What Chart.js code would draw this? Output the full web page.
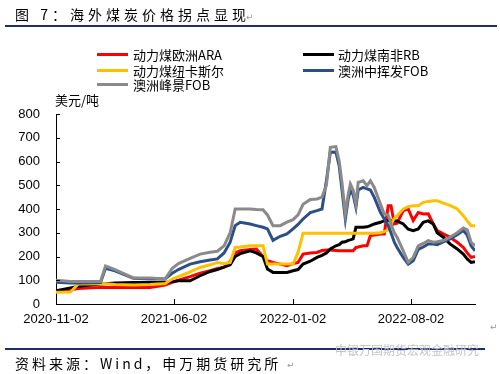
<!DOCTYPE html>
<html>
<head>
<meta charset="utf-8">
<script src="https://cdn.jsdelivr.net/npm/chart.js@4.4.0/dist/chart.umd.min.js"></script>
<style>
  body { margin: 0; width: 500px; height: 374px; position: relative; background: #fff; overflow: hidden; }
  .txt { position: absolute; white-space: nowrap; font-family: "Noto Sans CJK SC", sans-serif; color: #000; }
  .rule { position: absolute; left: 5px; height: 2px; background: #1f2d6e; }
  .sw { position: absolute; width: 31px; height: 3px; }
  .mark { position: absolute; font-size: 9px; color: #999; font-family: "DejaVu Sans", sans-serif; }
</style>
</head>
<body>
<canvas id="chart" width="500" height="374" style="position:absolute;left:0;top:0"></canvas>

<div class="txt" style="left:15px;top:4px;font-size:14px;letter-spacing:4px">图 7：海外煤炭价格拐点显现</div>
<div class="mark" style="left:246px;top:12px">↵</div>
<div class="rule" style="top:25px;width:492px"></div>

<!-- legend -->
<div class="sw" style="left:97px;top:53px;background:#ff0000"></div>
<div class="txt" style="left:133px;top:45px;font-size:13px">动力煤欧洲ARA</div>
<div class="sw" style="left:303px;top:53px;background:#000000"></div>
<div class="txt" style="left:338px;top:45px;font-size:13px">动力煤南非RB</div>
<div class="sw" style="left:97px;top:69px;background:#ffc000"></div>
<div class="txt" style="left:133px;top:61px;font-size:13px">动力煤纽卡斯尔</div>
<div class="sw" style="left:303px;top:69px;background:#2c4f87"></div>
<div class="txt" style="left:338px;top:61px;font-size:13px">澳洲中挥发FOB</div>
<div class="sw" style="left:97px;top:83px;background:#8a8a8a"></div>
<div class="txt" style="left:133px;top:75px;font-size:13px">澳洲峰景FOB</div>

<div class="txt" style="left:55px;top:90px;font-size:13px">美元/吨</div>

<div class="rule" style="top:348px;width:480px"></div>
<div class="txt" style="left:335px;top:341px;font-size:12px;color:#c4c4c4">中银万国期货宏观金融研究</div>
<div class="txt" style="left:15px;top:353px;font-size:14px;letter-spacing:3px">资料来源：Wind，申万期货研究所</div>
<div class="mark" style="left:287px;top:360px">↵</div>
<div class="mark" style="left:490px;top:322px">↵</div>

<script>
// sample dates
const dates = ['2020-11-02','2020-11-28','2020-12-12','2021-01-21','2021-01-30','2021-02-16','2021-03-21','2021-04-20','2021-05-17','2021-05-30',
  '2021-06-10','2021-07-01','2021-07-19','2021-08-06','2021-08-19','2021-08-31','2021-09-11','2021-09-20','2021-09-29','2021-10-17',
  '2021-10-28','2021-11-09','2021-11-17','2021-11-27','2021-12-10','2021-12-22','2022-01-02','2022-01-11','2022-01-20','2022-02-02',
  '2022-02-14','2022-02-23','2022-03-03','2022-03-10','2022-03-20','2022-03-26','2022-03-31','2022-04-06','2022-04-11','2022-04-15',
  '2022-04-20','2022-04-25','2022-04-29','2022-05-08','2022-05-15','2022-05-21','2022-05-28','2022-06-08','2022-06-15','2022-06-22',
  '2022-06-27','2022-07-03','2022-07-08','2022-07-19','2022-07-28','2022-08-06','2022-08-15','2022-08-24','2022-09-02','2022-09-11',
  '2022-09-18','2022-09-29','2022-10-11','2022-10-24','2022-11-04','2022-11-11','2022-11-18','2022-11-25'];

// 美元/吨
const euroARA = [56,60,65,70,70,70,70,70,80,91, 100,115,130,140,150,155,180,215,224,230,
  231,200,182,175,168,161,170,175,210,215, 217,225,227,227,225,224,224,224,224,224,
  224,238,240,245,245,288,290,295,295,414, 414,337,340,393,400,351,385,379,380,337,
  309,295,281,260,238,215,196,200];
const southAfricaRB = [56,68,75,84,85,88,91,91,91,95, 98,98,119,137,145,155,165,200,212,224,
  215,200,147,133,133,133,140,145,168,180, 196,205,215,232,245,250,260,262,268,270,
  274,323,323,323,325,330,337,344,351,351, 351,351,350,337,315,309,316,344,350,337,
  300,281,253,232,210,190,175,178];
const newcastle = [49,50,84,85,85,82,80,82,86,105, 115,135,154,165,175,170,175,238,240,245,
  245,245,168,168,168,168,168,217,298,298, 298,298,298,298,298,298,298,298,298,298,
  298,298,298,298,298,298,298,300,305,312, 337,360,372,400,410,414,414,428,432,435,
  435,425,415,400,372,350,330,330];
const ausMidVol = [92,88,88,90,150,140,108,105,105,130, 145,168,178,185,190,215,260,330,344,337,
  330,323,316,268,285,295,316,335,358,385, 393,400,520,639,640,580,480,358,440,477,
  460,407,480,491,485,480,449,386,358,330, 300,260,238,196,168,182,230,240,253,253,
  250,262,274,292,309,290,245,224];
const ausPeakDowns = [100,95,95,95,160,145,110,110,105,150, 170,192,210,218,222,245,300,400,400,400,
  398,397,375,330,330,345,355,375,420,440, 442,450,500,660,663,600,510,379,460,505,
  480,421,512,519,498,519,491,421,379,375, 337,300,281,224,175,196,245,255,267,260,
  262,267,281,300,320,312,260,245];

const xTickDates = ['2020-11-02','2021-06-02','2022-01-02','2022-08-02'];

const base = Date.UTC(2020, 10, 2);
const dayOf = d => (Date.parse(d) - base) / 86400000;
const toPoints = vals => vals.map((v, i) => ({ x: dayOf(dates[i]), y: v }));

function makeSet(label, vals, color, order) {
  return {
    label: label,
    data: toPoints(vals),
    borderColor: color,
    backgroundColor: color,
    borderWidth: 3,
    pointRadius: 0,
    fill: false,
    tension: 0,
    order: order
  };
}

// draw small inward tick marks like the original
const innerTicks = {
  id: 'innerTicks',
  afterDraw(chart) {
    const ctx = chart.ctx;
    const xs = chart.scales.x, ys = chart.scales.y;
    ctx.save();
    ctx.strokeStyle = '#000';
    ctx.lineWidth = 1;
    ctx.beginPath();
    ys.ticks.forEach(t => {
      const py = Math.round(ys.getPixelForValue(t.value)) + 0.5;
      ctx.moveTo(xs.left, py);
      ctx.lineTo(xs.left + 4, py);
    });
    xs.ticks.forEach(t => {
      const px = Math.round(xs.getPixelForValue(t.value)) + 0.5;
      ctx.moveTo(px, ys.bottom);
      ctx.lineTo(px, ys.bottom - 5);
    });
    ctx.stroke();
    ctx.restore();
  }
};

new Chart(document.getElementById('chart').getContext('2d'), {
  type: 'line',
  data: {
    datasets: [
      makeSet('动力煤欧洲ARA', euroARA, '#ff0000', 5),
      makeSet('动力煤南非RB', southAfricaRB, '#000000', 4),
      makeSet('动力煤纽卡斯尔', newcastle, '#ffc000', 3),
      makeSet('澳洲中挥发FOB', ausMidVol, '#2c4f87', 2),
      makeSet('澳洲峰景FOB', ausPeakDowns, '#8a8a8a', 1)
    ]
  },
  options: {
    responsive: false,
    animation: false,
    layout: { padding: { left: 10, top: 114, right: 25, bottom: 0 } },
    plugins: { legend: { display: false }, tooltip: { enabled: false } },
    scales: {
      x: {
        type: 'linear',
        min: 0,
        max: dayOf(dates[dates.length - 1]),
        afterBuildTicks(scale) {
          scale.ticks = xTickDates.map(d => ({ value: dayOf(d) }));
        },
        afterFit(scale) { scale.height = 70; },
        ticks: {
          autoSkip: false,
          maxRotation: 0,
          padding: 8,
          color: '#000',
          font: { family: 'Liberation Sans', size: 13 },
          callback: v => new Date(base + v * 86400000).toISOString().slice(0, 10)
        },
        grid: { display: true, drawOnChartArea: false, drawTicks: false },
        border: { color: '#000', width: 1 }
      },
      y: {
        min: 0,
        max: 800,
        afterFit(scale) { scale.width = 46; },
        ticks: {
          stepSize: 100,
          padding: 16,
          color: '#000',
          font: { family: 'Liberation Sans', size: 13 }
        },
        grid: { display: true, drawOnChartArea: false, drawTicks: false },
        border: { color: '#000', width: 1 }
      }
    }
  },
  plugins: [innerTicks]
});
</script>
</body>
</html>
